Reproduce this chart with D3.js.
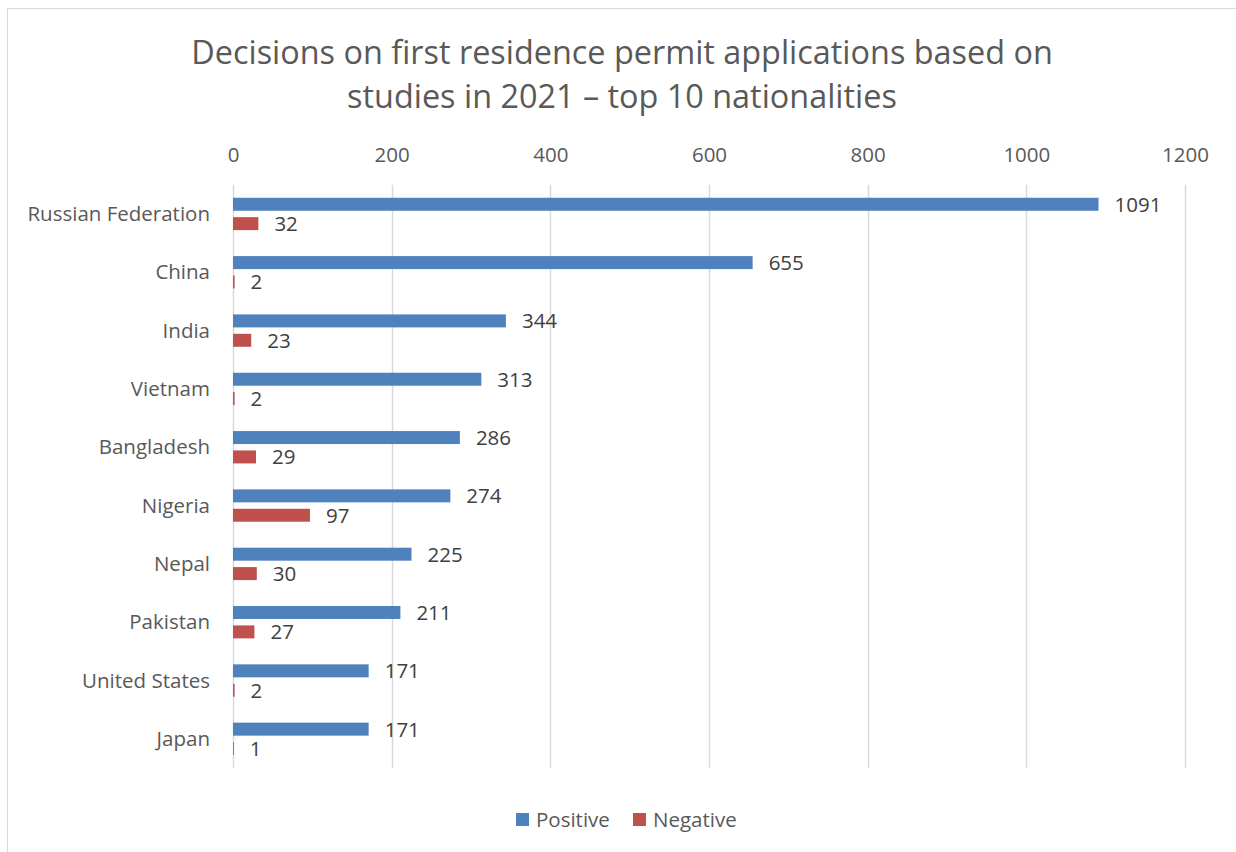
<!DOCTYPE html>
<html><head><meta charset="utf-8">
<script src="https://cdn.jsdelivr.net/npm/d3@7"></script>
<style>body{margin:0;background:#fff;} svg{display:block;font-family:"Open Sans",sans-serif;}</style>
</head><body>
<svg id="c" width="1236" height="852"></svg>
<script>
const categories = ["Russian Federation","China","India","Vietnam","Bangladesh","Nigeria","Nepal","Pakistan","United States","Japan"];
const positive = [1091,655,344,313,286,274,225,211,171,171];
const negative = [32,2,23,2,29,97,30,27,2,1];
const xTicks = [0,200,400,600,800,1000,1200];
const seriesNames = ["Positive","Negative"];
const colors = ["#4F81BD","#C0504D"];
const titleLines = ["Decisions on first residence permit applications based on","studies in 2021 \u2013 top 10 nationalities"];

const FONT = "'Open Sans',sans-serif";
const FS = 20.5;
const svg = d3.select("#c");
svg.append("rect").attr("x",7.5).attr("y",8.5).attr("width",1240).attr("height",860)
  .attr("fill","#fff").attr("stroke","#D9D9D9").attr("stroke-width",1);

const L=233, R=1185, T=184.8, B=768;
const x = d3.scaleLinear().domain([0,1200]).range([L,R]);
const y = d3.scaleBand().domain(categories).range([T,B]);
const sub = d3.scaleBand().domain(seriesNames).range([0,y.bandwidth()]).paddingInner(0.33).paddingOuter(0.67);

// title
svg.append("g").selectAll("text").data(titleLines).join("text")
  .attr("x",622).attr("y",(d,i)=>64+i*44).attr("text-anchor","middle")
  .attr("font-size",32.4).attr("fill","#595959").text(d=>d);

// gridlines
svg.append("g").selectAll("line").data(xTicks).join("line")
  .attr("x1",d=>Math.round(x(d))+0.5).attr("x2",d=>Math.round(x(d))+0.5)
  .attr("y1",T).attr("y2",B).attr("stroke","#D9D9D9").attr("stroke-width",1.5);

// top axis labels
const ax = d3.axisTop(x).tickValues(xTicks).tickFormat(d3.format("d")).tickSize(0).tickPadding(0);
const gA = svg.append("g").attr("transform",`translate(0,162)`).call(ax);
gA.select(".domain").remove();
gA.selectAll("text").attr("font-size",FS).attr("fill","#595959").attr("font-family",FONT).attr("dy",0);

// category labels
const ay = d3.axisLeft(y).tickSize(0).tickPadding(0);
const gY = svg.append("g").attr("transform",`translate(210,0)`).call(ay);
gY.select(".domain").remove();
gY.selectAll("text").attr("font-size",FS).attr("fill","#595959").attr("font-family",FONT).attr("dy","0.35em");

const rows = categories.map((c,i)=>({c, vals:[positive[i],negative[i]]}));
const g = svg.append("g");
rows.forEach(r=>{
  r.vals.forEach((v,j)=>{
    const yy = y(r.c)+sub(seriesNames[j]);
    g.append("rect").attr("x",x(0)).attr("y",yy).attr("width",x(v)-x(0)).attr("height",sub.bandwidth()).attr("fill",colors[j]);
    g.append("text").attr("x",x(v)+16).attr("y",yy+sub.bandwidth()/2).attr("dy","0.36em")
      .attr("font-size",FS).attr("fill","#404040").text(v);
  });
});

// legend
const legX=[516,633];
const lg = svg.append("g");
seriesNames.forEach((s,i)=>{
  lg.append("rect").attr("x",legX[i]).attr("y",813).attr("width",13).attr("height",13).attr("fill",colors[i]);
  lg.append("text").attr("x",legX[i]+20).attr("y",820).attr("dy","0.36em").attr("font-size",FS).attr("fill","#595959").text(s);
});
</script>
</body></html>
